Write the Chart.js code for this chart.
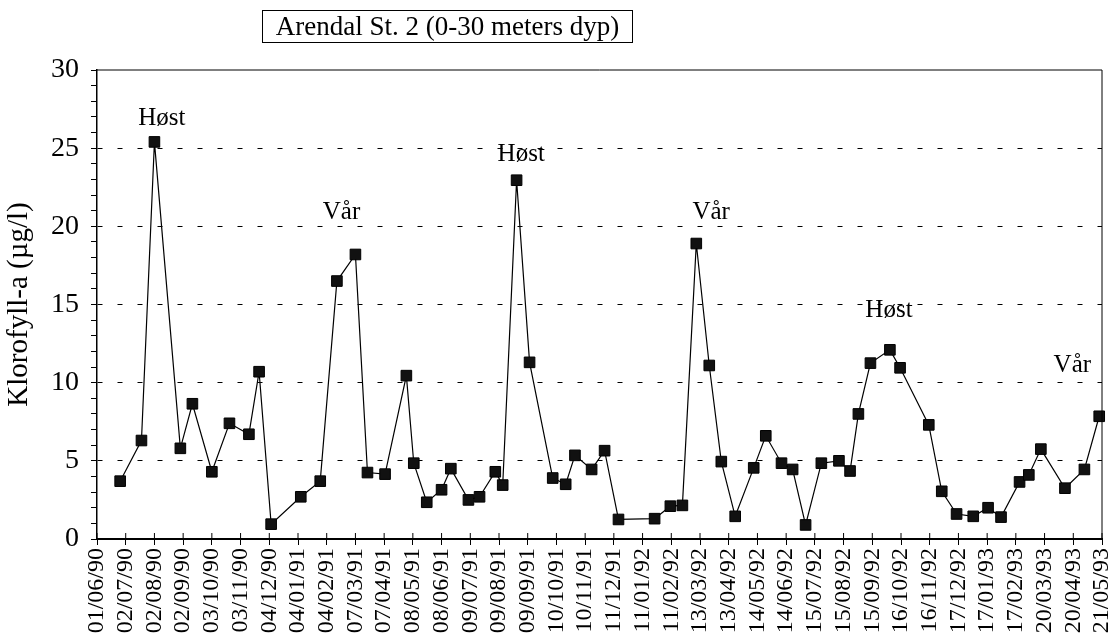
<!DOCTYPE html>
<html>
<head>
<meta charset="utf-8">
<script src="https://cdn.jsdelivr.net/npm/chart.js@4.4.1/dist/chart.umd.min.js"></script>
<style>
  html, body { margin: 0; padding: 0; background: #fff; }
  #wrap { position: relative; width: 1113px; height: 641px; }
  #title {
    position: absolute; left: 262px; top: 10px; width: 369px; height: 31px;
    border: 1px solid #000; color: #000; text-align: center; white-space: nowrap;
    font: 27px 'Liberation Serif', serif; line-height: 31px;
  }
</style>
</head>
<body>
<div id="wrap">
  <canvas id="chlaChart" width="1113" height="641"></canvas>
  <div id="title">Arendal St. 2 (0-30 meters dyp)</div>
</div>
<script>
// sampling dates and chlorophyll values
var sampleDates = [
  '1990-06-26', '1990-07-19', '1990-08-02', '1990-08-30', '1990-09-12', '1990-10-03', '1990-10-22', '1990-11-12',
  '1990-11-23', '1990-12-06', '1991-01-07', '1991-01-28', '1991-02-15', '1991-03-07', '1991-03-20', '1991-04-08',
  '1991-05-01', '1991-05-09', '1991-05-23', '1991-06-08', '1991-06-18', '1991-07-07', '1991-07-19', '1991-08-05',
  '1991-08-13', '1991-08-28', '1991-09-11', '1991-10-06', '1991-10-20', '1991-10-30', '1991-11-17', '1991-12-01',
  '1991-12-16', '1992-01-24', '1992-02-10', '1992-02-23', '1992-03-09', '1992-03-23', '1992-04-05', '1992-04-20',
  '1992-05-10', '1992-05-23', '1992-06-09', '1992-06-21', '1992-07-05', '1992-07-22', '1992-08-10', '1992-08-22',
  '1992-08-31', '1992-09-13', '1992-10-04', '1992-10-15', '1992-11-15', '1992-11-29', '1992-12-15', '1993-01-02',
  '1993-01-18', '1993-02-01', '1993-02-21', '1993-03-03', '1993-03-16', '1993-04-11', '1993-05-02', '1993-05-18'
];
var chlorophyll = [
  3.7, 6.3, 25.4, 5.8, 8.65, 4.3, 7.4, 6.7, 10.7, 0.95,
  2.7, 3.7, 16.5, 18.2, 4.25, 4.15, 10.45, 4.85, 2.35, 3.15,
  4.5, 2.5, 2.7, 4.3, 3.45, 22.95, 11.3, 3.9, 3.5, 5.35,
  4.45, 5.65, 1.25, 1.3, 2.1, 2.15, 18.9, 11.1, 4.95, 1.45,
  4.55, 6.6, 4.85, 4.45, 0.9, 4.85, 5.0, 4.35, 8.0, 11.25,
  12.1, 10.95, 7.3, 3.05, 1.6, 1.45, 2.0, 1.4, 3.65, 4.1,
  5.75, 3.25, 4.45, 7.85
];
var xTickLabels = [
  '01/06/90', '02/07/90', '02/08/90', '02/09/90', '03/10/90', '03/11/90', '04/12/90', '04/01/91', '04/02/91',
  '07/03/91', '07/04/91', '08/05/91', '08/06/91', '09/07/91', '09/08/91', '09/09/91', '10/10/91', '10/11/91',
  '11/12/91', '11/01/92', '11/02/92', '13/03/92', '13/04/92', '14/05/92', '14/06/92', '15/07/92', '15/08/92',
  '15/09/92', '16/10/92', '16/11/92', '17/12/92', '17/01/93', '17/02/93', '20/03/93', '20/04/93', '21/05/93'
];
var seasonLabels = ['Høst', 'Vår', 'Høst', 'Vår', 'Høst', 'Vår'];
var seasonDates = ['1990-08-10', '1991-02-20', '1991-09-02', '1992-03-25', '1992-10-03', '1993-04-19'];
var seasonLevels = [26.9, 20.9, 24.6, 20.9, 14.6, 11.1];

var startDate = Date.UTC(1990, 5, 1);
var tickStepDays = 31;

function toDay(s) {
  var p = s.split('-');
  return (Date.UTC(+p[0], +p[1] - 1, +p[2]) - startDate) / 86400000;
}

var points = sampleDates.map(function (d, i) {
  return { x: toDay(d), y: chlorophyll[i] };
});

var serif = "'Liberation Serif', 'Times New Roman', serif";

// top/right frame, inner x tick marks and the season notes
var framePlugin = {
  id: 'frame',
  afterDraw: function (chart) {
    var ctx = chart.ctx, a = chart.chartArea;
    var xs = chart.scales.x, ys = chart.scales.y;
    ctx.save();
    ctx.strokeStyle = '#000';
    ctx.lineWidth = 1;
    ctx.beginPath();
    ctx.moveTo(a.left, a.top);
    ctx.lineTo(a.right, a.top);
    ctx.lineTo(a.right, a.bottom);
    xs.ticks.forEach(function (t) {
      var px = xs.getPixelForValue(t.value);
      ctx.moveTo(px, a.bottom - 6);
      ctx.lineTo(px, a.bottom);
    });
    ctx.stroke();

    ctx.font = '25px ' + serif;
    ctx.fillStyle = '#000';
    ctx.textAlign = 'center';
    ctx.textBaseline = 'middle';
    seasonLabels.forEach(function (s, i) {
      ctx.fillText(s, xs.getPixelForValue(toDay(seasonDates[i])), ys.getPixelForValue(seasonLevels[i]));
    });
    ctx.restore();
  }
};

var ctx = document.getElementById('chlaChart').getContext('2d');
var chlaChart = new Chart(ctx, {
  type: 'line',
  data: {
    datasets: [{
      label: 'Klorofyll-a',
      data: points,
      borderColor: '#000',
      borderWidth: 1.2,
      backgroundColor: '#000',
      pointStyle: 'rect',
      pointRadius: 7.5,
      pointBorderWidth: 1,
      pointBorderColor: '#000',
      pointBackgroundColor: '#111',
      tension: 0,
      clip: false
    }]
  },
  options: {
    responsive: false,
    animation: false,
    layout: { padding: { top: 70, right: 11, left: 0, bottom: 0 } },
    plugins: {
      legend: { display: false },
      tooltip: { enabled: false }
    },
    scales: {
      x: {
        type: 'linear',
        min: 0,
        max: (xTickLabels.length - 1) * tickStepDays,
        afterBuildTicks: function (scale) {
          scale.ticks = xTickLabels.map(function (l, i) { return { value: i * tickStepDays }; });
        },
        afterFit: function (scale) {
          scale.height = 102;
          scale.paddingLeft = 0;
          scale.paddingRight = 0;
        },
        ticks: {
          autoSkip: false,
          maxRotation: 90,
          minRotation: 90,
          padding: 3,
          color: '#000',
          font: { family: serif, size: 24 },
          callback: function (value, index) { return xTickLabels[index]; }
        },
        grid: { drawOnChartArea: false, tickLength: 6, tickColor: '#000', tickWidth: 1 },
        border: { color: '#000', width: 2 }
      },
      y: {
        min: 0,
        max: 30,
        afterFit: function (scale) { scale.width = 97; },
        ticks: {
          stepSize: 1,
          autoSkip: false,
          padding: 12,
          color: '#000',
          font: { family: serif, size: 28 },
          callback: function (value) { return value % 5 === 0 ? value : ''; }
        },
        grid: {
          color: function (c) {
            var v = c.tick ? c.tick.value : 0;
            return (v % 5 === 0 && v > 0 && v < 30) ? '#000' : 'rgba(0,0,0,0)';
          },
          lineWidth: 1,
          tickLength: 6,
          tickColor: '#000',
          tickWidth: 1
        },
        border: { color: '#000', width: 1.5, dash: [5, 15] },
        title: {
          display: true,
          text: 'Klorofyll-a (µg/l)',
          color: '#000',
          font: { family: serif, size: 29 },
          padding: { top: 2, bottom: 4 }
        }
      }
    }
  },
  plugins: [framePlugin]
});
</script>
</body>
</html>
